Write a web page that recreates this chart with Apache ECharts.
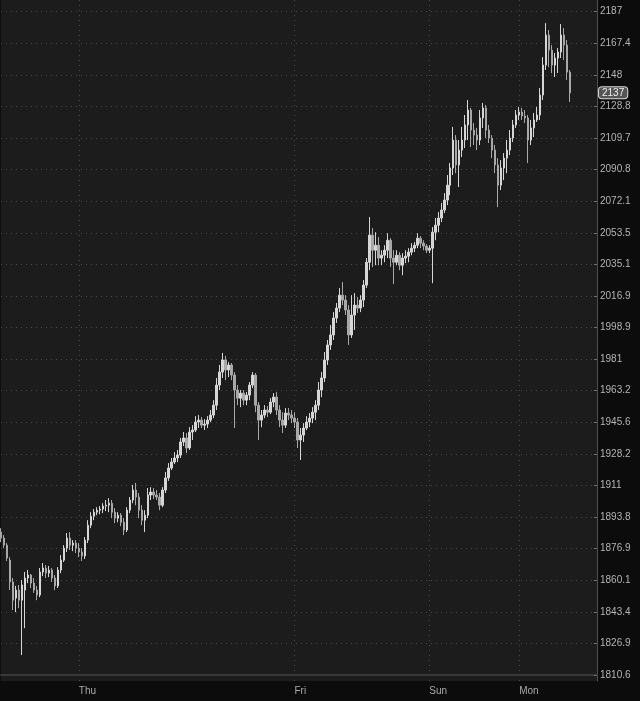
<!DOCTYPE html>
<html><head><meta charset="utf-8">
<script src="https://cdn.jsdelivr.net/npm/echarts@6/dist/echarts.min.js"></script>
<style>html,body{margin:0;padding:0;background:#0c0c0c}#c{width:640px;height:701px}</style>
</head><body><div id="c"></div>
<script>
// Price axis tick labels (log-spaced), bottom to top
const tickLabels = ['1810.6','1826.9','1843.4','1860.1','1876.9','1893.8','1911','1928.2','1945.6','1963.2','1981','1998.9','2016.9','2035.1','2053.5','2072.1','2090.8','2109.7','2128.8','2148','2167.4','2187'];
// Time axis: number of bar slots and day-start labels
const barSlots = 200;
const dayIndex = [26, 98, 143, 173];
const dayNames = ['Thu', 'Fri', 'Sun', 'Mon'];
const lastPrice = 2137;
// OHLC bars: [open, close, low, high]
const candles = [
[1885.8,1882.6,1880.4,1887.9],[1882.6,1878.8,1877.2,1884.2],[1878.8,1871.9,1870.3,1879.9],[1870.8,1859.2,1854.9,1872.4],
[1859.2,1849.6,1844.4,1861.3],[1850.7,1854.9,1843.3,1857.1],[1854.9,1849.6,1845.4,1857.6],[1849.6,1857.6,1820.9,1860.2],
[1854.9,1861.3,1834.9,1864.5],[1861.3,1862.9,1858.6,1865.5],[1862.9,1858.6,1856.0,1863.4],[1858.6,1854.9,1853.4,1861.3],
[1854.9,1852.3,1849.6,1857.1],[1852.3,1864.5,1851.2,1866.6],[1864.5,1866.6,1862.3,1869.3],[1866.6,1863.9,1861.3,1868.2],
[1863.9,1865.5,1861.8,1867.7],[1865.5,1861.3,1859.2,1866.6],[1861.3,1857.1,1854.9,1862.9],[1857.1,1865.5,1856.0,1867.1],
[1865.5,1870.8,1863.9,1873.5],[1870.8,1877.2,1869.8,1878.8],[1877.2,1882.6,1875.1,1885.3],[1882.6,1878.8,1876.2,1885.8],
[1878.8,1879.9,1875.6,1881.5],[1879.9,1877.2,1874.6,1881.5],[1877.2,1875.1,1872.4,1879.9],[1875.1,1873.0,1870.3,1877.2],
[1873.0,1881.5,1871.4,1883.1],[1881.5,1889.5,1879.9,1892.2],[1889.5,1894.3,1887.9,1896.5],[1894.3,1896.5,1892.2,1898.2],
[1896.5,1897.6,1894.9,1899.2],[1897.6,1898.2,1895.4,1899.8],[1898.2,1899.8,1896.0,1901.4],[1899.8,1900.3,1897.1,1903.1],
[1900.3,1901.4,1896.5,1904.1],[1901.4,1896.5,1893.3,1903.1],[1896.5,1893.3,1890.6,1898.7],[1893.3,1894.9,1891.1,1896.5],
[1894.9,1891.1,1889.0,1896.0],[1891.1,1886.9,1884.2,1893.3],[1886.9,1897.6,1885.8,1899.2],[1897.6,1903.1,1896.0,1904.7],
[1903.1,1908.5,1901.4,1911.3],[1908.5,1904.7,1900.3,1912.4],[1904.7,1897.6,1893.3,1906.9],[1897.6,1892.2,1889.5,1900.3],
[1892.2,1894.9,1885.8,1897.6],[1894.9,1905.8,1893.3,1909.6],[1905.8,1907.4,1903.1,1910.1],[1907.4,1905.8,1903.6,1909.6],
[1905.8,1904.7,1903.1,1908.5],[1904.7,1900.3,1897.6,1906.9],[1900.3,1908.5,1899.2,1910.1],[1908.5,1915.1,1906.9,1918.3],
[1915.1,1920.5,1913.5,1923.2],[1920.5,1923.8,1919.4,1926.0],[1923.8,1926.0,1922.7,1929.2],[1926.0,1927.6,1923.8,1930.4],
[1927.6,1934.8,1926.0,1937.0],[1934.8,1937.0,1932.6,1940.3],[1937.0,1931.5,1928.7,1939.7],[1931.5,1940.3,1930.4,1943.0],
[1940.3,1941.4,1935.9,1944.1],[1941.4,1945.8,1940.3,1949.1],[1945.8,1946.9,1942.5,1949.7],[1946.9,1944.1,1942.5,1948.6],
[1944.1,1944.7,1941.4,1947.4],[1944.7,1946.9,1942.5,1949.1],[1946.9,1949.7,1945.8,1952.5],[1949.7,1955.2,1948.0,1958.0],
[1955.2,1966.4,1952.5,1970.4],[1966.4,1973.7,1963.6,1977.7],[1973.7,1980.5,1970.4,1984.5],[1980.5,1974.9,1969.2,1982.8],
[1974.9,1977.7,1970.9,1979.4],[1977.7,1972.0,1969.2,1978.8],[1972.0,1963.6,1942.5,1973.7],[1963.6,1959.1,1955.2,1966.4],
[1959.1,1961.9,1954.1,1963.6],[1961.9,1958.0,1955.2,1963.6],[1958.0,1960.8,1955.2,1962.5],[1960.8,1966.4,1958.0,1968.1],
[1966.4,1972.0,1964.7,1973.7],[1972.0,1955.2,1951.3,1973.2],[1955.2,1946.9,1935.9,1956.9],[1946.9,1949.7,1943.0,1952.5],
[1949.7,1952.5,1948.0,1955.2],[1952.5,1951.3,1948.6,1954.7],[1951.3,1956.9,1950.2,1959.1],[1956.9,1959.7,1954.1,1961.9],
[1959.7,1952.5,1949.7,1962.5],[1952.5,1946.9,1943.0,1955.2],[1946.9,1944.1,1939.7,1951.3],[1944.1,1950.8,1942.5,1953.6],
[1950.8,1949.7,1946.9,1953.6],[1949.7,1948.0,1945.2,1952.5],[1948.0,1945.8,1942.5,1951.3],[1945.8,1935.9,1931.5,1948.0],
[1935.9,1938.6,1924.9,1942.5],[1938.6,1942.5,1934.8,1945.2],[1942.5,1945.8,1941.4,1949.1],[1945.8,1948.0,1943.0,1950.8],
[1948.0,1951.3,1945.2,1954.1],[1951.3,1955.2,1946.9,1958.0],[1955.2,1963.6,1952.5,1968.1],[1963.6,1970.4,1959.7,1973.7],
[1970.4,1980.5,1968.1,1985.0],[1980.5,1989.0,1977.7,1991.8],[1989.0,1994.7,1986.2,2000.3],[1994.7,2004.3,1991.8,2007.7],
[2004.3,2010.0,2001.5,2012.9],[2010.0,2017.4,2007.7,2021.5],[2017.4,2014.6,2011.7,2024.9],[2014.6,2008.9,2006.0,2017.4],
[2008.9,1994.7,1989.0,2011.7],[1994.7,2006.0,1993.0,2017.4],[2006.0,2011.7,1997.5,2018.6],[2011.7,2010.0,2007.2,2016.3],
[2010.0,2014.6,2007.7,2017.4],[2014.6,2023.2,2010.6,2026.1],[2023.2,2036.4,2021.5,2038.8],[2036.4,2052.2,2031.8,2062.8],
[2052.2,2043.4,2033.6,2056.3],[2043.4,2046.3,2034.7,2053.9],[2046.3,2038.8,2034.7,2051.0],[2038.8,2040.5,2034.7,2043.4],
[2040.5,2043.4,2036.4,2046.3],[2043.4,2049.2,2038.8,2053.3],[2049.2,2038.8,2033.6,2050.4],[2038.8,2036.4,2023.8,2043.4],
[2036.4,2040.5,2034.7,2043.4],[2040.5,2034.7,2031.8,2042.3],[2034.7,2038.8,2028.9,2041.7],[2038.8,2039.9,2035.9,2043.4],
[2039.9,2042.3,2036.4,2044.6],[2042.3,2044.6,2040.5,2047.5],[2044.6,2046.3,2042.3,2048.1],[2046.3,2050.4,2044.6,2053.3],
[2050.4,2047.5,2044.6,2051.6],[2047.5,2045.8,2043.4,2049.2],[2045.8,2043.4,2041.7,2046.9],[2043.4,2044.6,2041.7,2046.3],
[2044.6,2053.9,2024.3,2056.9],[2053.9,2058.0,2049.2,2062.2],[2058.0,2062.2,2053.9,2065.7],[2062.2,2066.9,2059.8,2071.0],
[2066.9,2072.8,2065.1,2076.9],[2072.8,2081.6,2069.8,2087.6],[2081.6,2091.8,2075.7,2094.8],[2091.8,2108.5,2087.6,2116.4],
[2108.5,2093.6,2088.7,2111.5],[2093.6,2102.5,2080.5,2108.5],[2102.5,2108.5,2098.3,2116.4],[2108.5,2117.6,2103.7,2123.6],
[2117.6,2126.6,2108.5,2132.7],[2126.6,2114.5,2104.3,2127.9],[2114.5,2111.5,2105.5,2118.8],[2111.5,2108.5,2102.5,2115.8],
[2108.5,2121.8,2105.5,2126.6],[2121.8,2127.9,2115.8,2130.9],[2127.9,2114.5,2109.7,2129.7],[2114.5,2109.7,2106.7,2117.6],
[2109.7,2102.5,2097.7,2111.5],[2102.5,2093.6,2088.7,2105.5],[2093.6,2081.6,2068.6,2097.7],[2081.6,2091.8,2078.7,2096.5],
[2091.8,2097.7,2084.6,2100.7],[2097.7,2102.5,2088.7,2108.5],[2102.5,2109.7,2099.5,2114.5],[2109.7,2117.6,2107.3,2120.6],
[2117.6,2123.6,2115.8,2126.6],[2123.6,2125.4,2120.6,2128.5],[2125.4,2123.0,2120.6,2127.9],[2123.0,2121.8,2118.8,2126.6],
[2121.8,2108.5,2094.8,2123.6],[2108.5,2115.8,2105.5,2120.6],[2115.8,2120.6,2110.3,2124.8],[2120.6,2123.6,2119.4,2128.5],
[2123.6,2135.7,2120.6,2140.0],[2135.7,2154.0,2132.7,2158.9],[2154.0,2172.5,2151.0,2179.9],[2172.5,2163.2,2152.8,2175.6],
[2163.2,2154.0,2149.1,2166.3],[2154.0,2158.3,2146.7,2161.4],[2158.3,2162.0,2149.1,2164.5],[2162.0,2172.5,2158.3,2179.3],
[2172.5,2166.3,2157.1,2176.8],[2166.3,2149.7,2144.9,2169.4],[2149.7,2137.0,2131.5,2151.0]
];

const P0 = parseFloat(tickLabels[0]);
const P1 = parseFloat(tickLabels[tickLabels.length - 1]);
const NT = tickLabels.length - 1;
const toT = p => Math.log(p / P0) / Math.log(P1 / P0) * NT;
const tickIdx = tickLabels.map((_, i) => i);
const cats = Array.from({length: barSlots}, (_, i) => {
  const k = dayIndex.indexOf(i);
  return k >= 0 ? dayNames[k] : '';
});
const isDay = (i) => dayIndex.indexOf(i) >= 0;
const FONT = "'Liberation Sans Narrow', 'Liberation Sans', sans-serif";

const chart = echarts.init(document.getElementById('c'), null, {renderer: 'canvas'});
chart.setOption({
  backgroundColor: '#0c0c0c',
  animation: false,
  grid: {left: 1, right: 43, top: 0, bottom: 20, show: true, backgroundColor: '#1c1c1c', borderWidth: 0},
  xAxis: {
    type: 'category', data: cats, boundaryGap: false,
    axisLine: {show: true, lineStyle: {color: '#383838', width: 2}},
    axisTick: {show: false},
    axisLabel: {interval: (i) => isDay(i), align: 'left', color: '#a9a9a9', fontSize: 10, fontFamily: FONT, margin: 5},
    splitLine: {show: true, interval: (i) => isDay(i), lineStyle: {color: '#4a4a4a', type: [1, 4], width: 1}}
  },
  yAxis: {
    type: 'value', position: 'right', min: -0.19, max: 21.37, scale: true,
    axisLine: {show: true, lineStyle: {color: '#505050'}},
    axisTick: {show: true, inside: true, length: 3, customValues: tickIdx, lineStyle: {color: '#707070'}},
    axisLabel: {customValues: tickIdx, formatter: (v) => tickLabels[Math.round(v)], color: '#b4b4b4', fontSize: 10, fontFamily: FONT, margin: 3},
    splitLine: {show: true, lineStyle: {color: '#4a4a4a', type: [1, 4], width: 1}}
  },
  series: [{
    type: 'candlestick',
    data: candles.map(c => c.map(toT)),
    barWidth: 2,
    clip: false,
    itemStyle: {color: '#d6d6d6', color0: '#a8a8a8', borderColor: '#d6d6d6', borderColor0: '#a8a8a8', borderWidth: 1},
    markLine: {
      silent: true, symbol: 'none', animation: false,
      lineStyle: {width: 0, color: 'rgba(0,0,0,0)'},
      data: [{yAxis: toT(lastPrice)}],
      label: {show: true, position: 'end', distance: 2, formatter: String(lastPrice),
        color: '#f0f0f0', backgroundColor: '#555555', borderColor: '#d8d8d8', borderWidth: 1,
        borderRadius: 3, padding: [1, 3, 0, 3], fontSize: 10, fontFamily: FONT}
    }
  }]
});
</script>
</body></html>
